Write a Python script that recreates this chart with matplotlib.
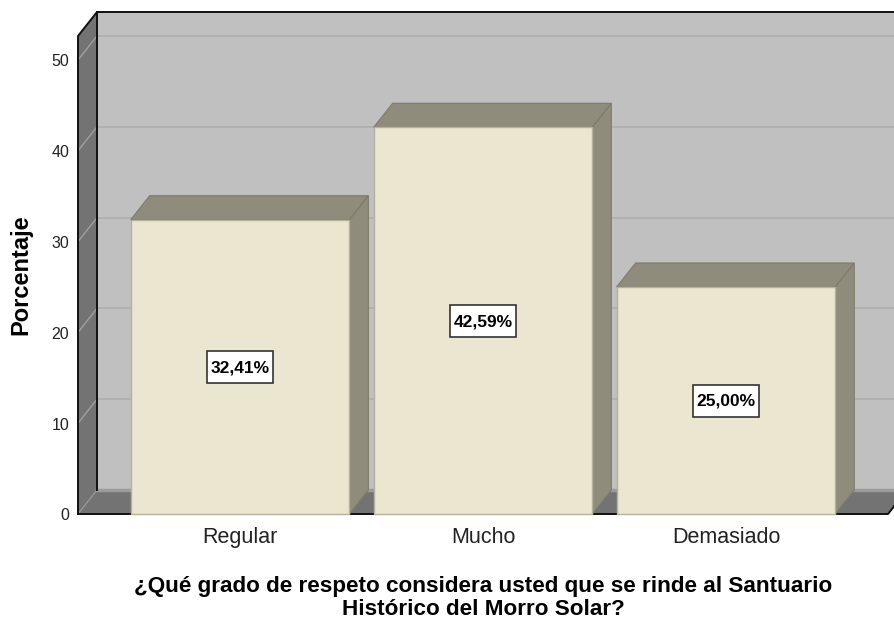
import matplotlib
matplotlib.use('Agg')
import matplotlib.pyplot as plt
from matplotlib.patches import Polygon, Rectangle

categories = ['Regular', 'Mucho', 'Demasiado']
percentages = [32.41, 42.59, 25.00]
labels = ['32,41%', '42,59%', '25,00%']
y_ticks = [0, 10, 20, 30, 40, 50]

plt.rcParams['font.family'] = ['Liberation Sans', 'DejaVu Sans']

W, H = 894, 622
left, right, bottom, top = 78, 888, 514, 36
fig = plt.figure(figsize=(W / 100, H / 100), dpi=100)
ax = fig.add_axes([left / W, 1 - bottom / H, (right - left) / W, (bottom - top) / H])
ax.set_xlim(-0.667, 2.667)
ax.set_ylim(0, (bottom - top) / 9.08)
ax.axis('off')

# depth of the fake 3d box, in data units
px_x = 1 / 243.0
px_y = 1 / 9.08
dx = 19 * px_x
dy = 24 * px_y
x0, x1 = ax.get_xlim()
y1 = ax.get_ylim()[1]

def poly(pts, fc, ec='none', lw=0, z=1):
    ax.add_patch(Polygon(pts, closed=True, facecolor=fc, edgecolor=ec, linewidth=lw, zorder=z, clip_on=False))

# back wall, left wall, floor
poly([(x0 + dx, dy), (x1 + dx, dy), (x1 + dx, y1 + dy), (x0 + dx, y1 + dy)], '#c0c0c0')
poly([(x0, 0), (x0 + dx, dy), (x0 + dx, y1 + dy), (x0, y1)], '#737373')
poly([(x0, 0), (x1, 0), (x1 + dx, dy), (x0 + dx, dy)], '#737373')

for t in y_ticks[1:]:
    ax.plot([x0 + dx, x1 + dx], [t + dy, t + dy], color='#b0b0b0', lw=1.3, zorder=2, clip_on=False)
    ax.plot([x0, x0 + dx], [t, t + dy], color='#a0a0a0', lw=1.0, zorder=2, clip_on=False)
ax.plot([x0 + dx, x1 + dx], [dy, dy], color='#9c9c9c', lw=2.5, zorder=2, clip_on=False)
ax.plot([x0, x0 + dx], [0, dy], color='#9a9a9a', lw=0.8, zorder=2, clip_on=False)

# black outline of the box
ax.plot([x0, x0, x0 + dx, x1 + dx], [0, y1, y1 + dy, y1 + dy], color='#111111', lw=1.4, zorder=3, clip_on=False)
ax.plot([x0 + dx, x0 + dx], [dy, y1 + dy], color='#111111', lw=1.4, zorder=3, clip_on=False)
ax.plot([x0, x1, x1 + dx], [0, 0, dy], color='#111111', lw=1.4, zorder=3, clip_on=False)

# bars
bar_w = 0.9
edge = '#7d7b6c'
for i, v in enumerate(percentages):
    a, b = i - bar_w / 2, i + bar_w / 2
    poly([(a, v), (b, v), (b + dx, v + dy), (a + dx, v + dy)], '#8f8c7b', edge, 0.8, 4)
    poly([(b, 0), (b + dx, dy), (b + dx, v + dy), (b, v)], '#8f8c7b', edge, 0.8, 4)
    ax.add_patch(Rectangle((a, 0), bar_w, v, facecolor='#ebe6d0', edgecolor='#b4b19e', linewidth=1.0, zorder=5, clip_on=False))
    ax.add_patch(Rectangle((i - 33 * px_x, v / 2 - 16 * px_y), 66 * px_x, 32 * px_y, facecolor='white',
                           edgecolor='#333333', linewidth=1.2, zorder=6))
    ax.text(i, v / 2 - 0.1, labels[i], ha='center', va='center', fontsize=12.5, fontweight='bold', zorder=7)
    ax.text(i, -2.6, categories[i], ha='center', va='center', fontsize=15.5, color='#222222')

for t in y_ticks:
    ax.text(x0 - 9 * px_x, t - 0.2, str(t), ha='right', va='center', fontsize=11.5, color='#222222', clip_on=False)

fig.text(21 / W, 1 - 275 / H, 'Porcentaje', rotation=90, ha='center', va='center', fontsize=17, fontweight='bold')
fig.text(483 / W, 1 - 598 / H, '¿Qué grado de respeto considera usted que se rinde al Santuario\nHistórico del Morro Solar?',
         ha='center', va='center', fontsize=16.2, fontweight='bold', linespacing=1.15)

fig.savefig('out.png', dpi=100)
